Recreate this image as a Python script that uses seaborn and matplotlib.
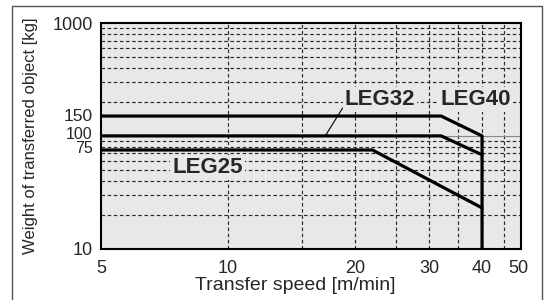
import matplotlib
matplotlib.use("Agg")
import matplotlib.pyplot as plt
import matplotlib.ticker as mticker
from matplotlib.patches import Rectangle
from matplotlib.transforms import ScaledTranslation
import seaborn as sns
import pandas as pd

# ---- data ----
leg40_speed = [5, 32, 40, 40]
leg40_weight = [150, 150, 100, 10]
leg32_speed = [5, 32, 40]
leg32_weight = [100, 100, 68]
leg25_speed = [5, 22, 40]
leg25_weight = [75, 75, 23]

series_names = ["LEG40", "LEG32", "LEG25"]
label_pos = {"LEG32": (22.9, 212), "LEG40": (38.6, 212), "LEG25": (8.94, 53)}
leader_line_x = [18.7, 17.0]
leader_line_y = [177, 100]

x_ticks = [5, 10, 20, 30, 40, 48.7]
x_ticklabels = ["5", "10", "20", "30", "40", "50"]
x_grid = [10, 15, 20, 25, 30, 35, 40, 45]
y_ticks = [10, 75, 100, 150, 1000]
y_ticklabels = ["10", "75", "100", "150", "1000"]
y_grid = [20, 30, 40, 50, 60, 70, 80, 90, 200, 300, 400, 500, 600, 700, 800, 900]

sns.set_style("ticks")
plt.rcParams["font.family"] = ["Liberation Sans", "DejaVu Sans"]

bg = "#e7e8e8"
fig = plt.figure(figsize=(5.52, 3.0), dpi=100)
ax = fig.add_axes([0.183, 0.171, 0.761, 0.752])
ax.set_facecolor(bg)

ax.set_xscale("log")
ax.set_yscale("log")
ax.set_xlim(5, 49.5)
ax.set_ylim(10, 1000)

df = pd.concat([
    pd.DataFrame({"speed": leg40_speed, "weight": leg40_weight, "series": "LEG40"}),
    pd.DataFrame({"speed": leg32_speed, "weight": leg32_weight, "series": "LEG32"}),
    pd.DataFrame({"speed": leg25_speed, "weight": leg25_weight, "series": "LEG25"}),
])

# grid
ax.xaxis.remove_overlapping_locs = False
ax.yaxis.remove_overlapping_locs = False
ax.xaxis.set_major_locator(mticker.FixedLocator(x_ticks))
ax.xaxis.set_major_formatter(mticker.FixedFormatter(x_ticklabels))
ax.xaxis.set_minor_locator(mticker.FixedLocator(x_grid))
ax.xaxis.set_minor_formatter(mticker.NullFormatter())
ax.yaxis.set_major_locator(mticker.FixedLocator(y_ticks))
ax.yaxis.set_major_formatter(mticker.FixedFormatter(y_ticklabels))
ax.yaxis.set_minor_locator(mticker.FixedLocator(y_grid))
ax.yaxis.set_minor_formatter(mticker.NullFormatter())
ax.grid(False, which="major")
ax.grid(True, which="minor", color="#2a2a2a", lw=0.85, linestyle=(0, (3, 2.2)))
ax.set_axisbelow(True)
ax.axhline(100, color="#888888", lw=0.8, zorder=1.5)

for name in series_names:
    sub = df[df["series"] == name]
    sns.lineplot(data=sub, x="speed", y="weight", sort=False, estimator=None,
                 color="black", lw=2.3, ax=ax, legend=False, zorder=3)

ax.plot(leader_line_x, leader_line_y, color="black", lw=0.8, zorder=3)

for name in series_names:
    x, y = label_pos[name]
    ax.text(x, y, name, fontsize=16, fontweight="bold", ha="center", va="center",
            zorder=4, bbox=dict(fc=bg, ec="none", pad=1.5))

ax.tick_params(which="both", length=0)
ax.tick_params(axis="x", labelsize=13, pad=8)
ax.tick_params(axis="y", labelsize=11.5, pad=6)

for s in ax.spines.values():
    s.set_color("black")
    s.set_linewidth(1.5)

ax.set_xlabel("Transfer speed [m/min]", fontsize=14)
ax.xaxis.label.set_va("center")
ax.xaxis.set_label_coords(0.462, -0.165)
ax.set_ylabel("Weight of transferred object [kg]", fontsize=12)
ax.yaxis.label.set_va("center")
ax.yaxis.set_label_coords(-0.169, 0.5)

fig.patches.append(Rectangle((12 / 552, -0.02), 530 / 552, 1.0, transform=fig.transFigure,
                             fill=False, ec="#555555", lw=1.0))

# nudge crowded y tick labels, as in the reference
fig.canvas.draw()
shifts = {"150": 1.0, "100": 3.0, "75": 3.0}
sizes = {"1000": 13, "10": 13, "150": 12.5}
for lbl in ax.get_yticklabels():
    t = lbl.get_text()
    if t in sizes:
        lbl.set_fontsize(sizes[t])
    dy = shifts.get(t, 0)
    if dy:
        lbl.set_transform(lbl.get_transform() + ScaledTranslation(0, dy / 100, fig.dpi_scale_trans))

fig.savefig("out.png", dpi=100)
